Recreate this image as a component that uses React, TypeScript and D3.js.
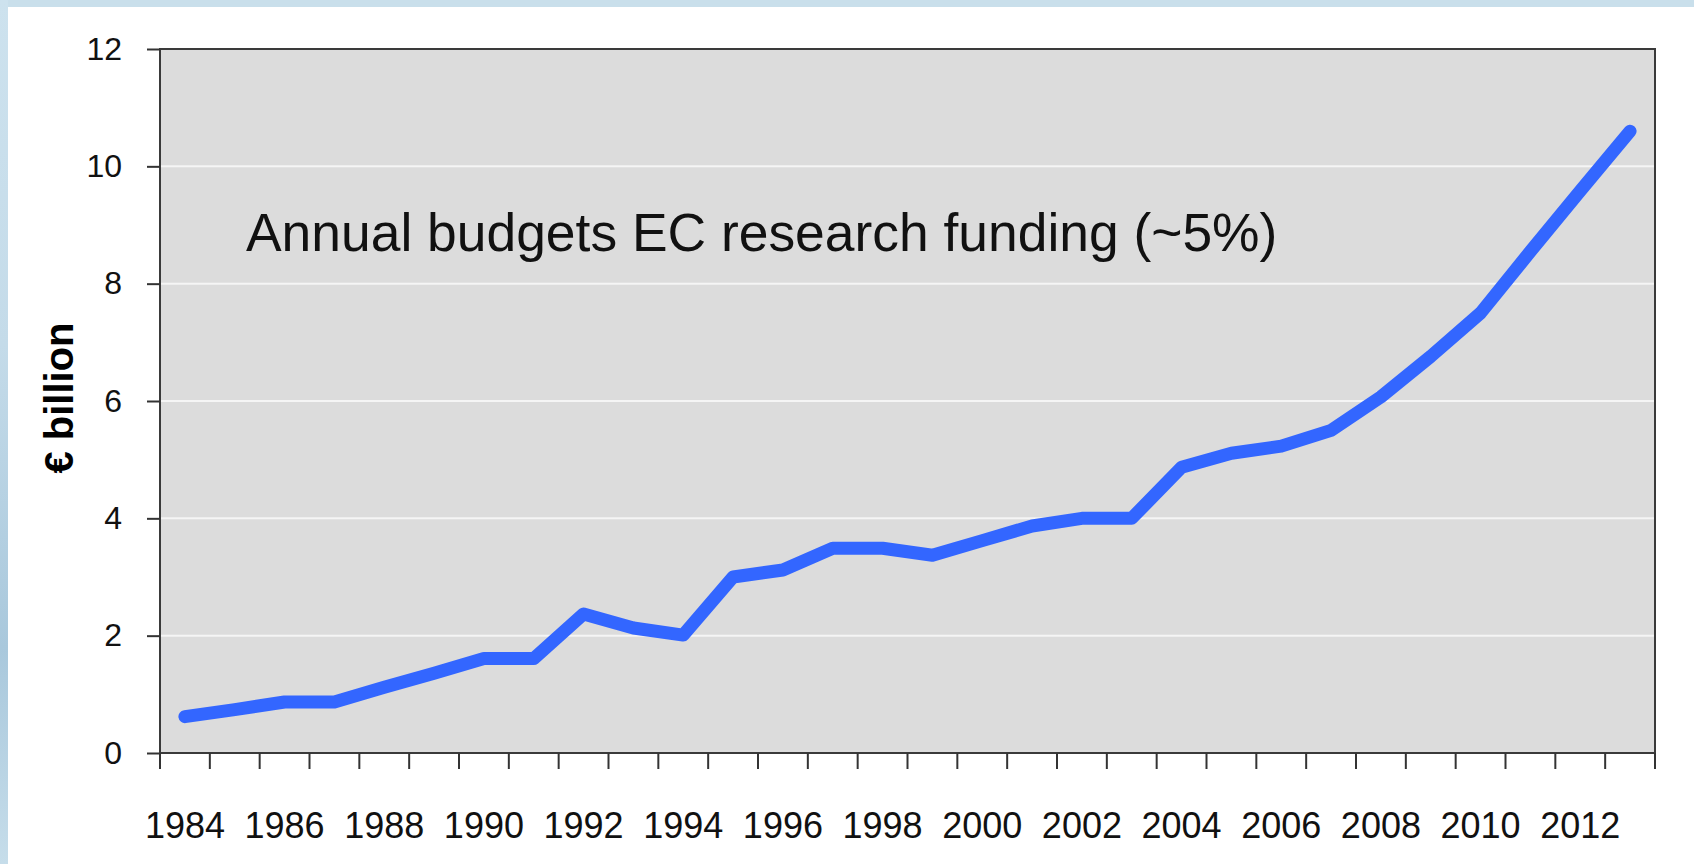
import { useEffect, useRef } from "react";
import * as d3 from "d3";

// EC research funding, € billion per year
const years = [
  1984, 1985, 1986, 1987, 1988, 1989, 1990, 1991, 1992, 1993, 1994, 1995,
  1996, 1997, 1998, 1999, 2000, 2001, 2002, 2003, 2004, 2005, 2006, 2007,
  2008, 2009, 2010, 2011, 2012, 2013,
];
const budget = [
  0.62, 0.74, 0.87, 0.87, 1.12, 1.36, 1.61, 1.61, 2.37, 2.13, 2.01, 3.0,
  3.12, 3.49, 3.49, 3.37, 3.62, 3.87, 4.0, 4.0, 4.87, 5.11, 5.23, 5.5,
  6.07, 6.76, 7.5, 8.55, 9.58, 10.6,
];
const yTicks = [0, 2, 4, 6, 8, 10, 12];
const xLabelYears = [
  1984, 1986, 1988, 1990, 1992, 1994, 1996, 1998, 2000, 2002, 2004, 2006,
  2008, 2010, 2012,
];
const annotation = "Annual budgets EC research funding (~5%)";
const yTitle = "€ billion";

const FONT = "'Liberation Sans', Arial, Helvetica, sans-serif";

const App = () => {
  const svgRef = useRef<SVGSVGElement>(null);
  const width = 1694;
  const height = 864;

  useEffect(() => {
    const svg = d3.select(svgRef.current);
    svg.selectAll("*").remove();

    const margin = { top: 49, right: 39, bottom: 111, left: 160 };
    const innerWidth = width - margin.left - margin.right;
    const innerHeight = height - margin.top - margin.bottom;

    // page frame: light blue strip top/left, white panel
    const defs = svg.append("defs");
    const grad = defs
      .append("linearGradient")
      .attr("id", "leftStrip")
      .attr("x1", 0)
      .attr("x2", 0)
      .attr("y1", 0)
      .attr("y2", 1);
    grad.append("stop").attr("offset", "0%").attr("stop-color", "#cde2ee");
    grad.append("stop").attr("offset", "40%").attr("stop-color", "#c4dbe9");
    grad.append("stop").attr("offset", "75%").attr("stop-color", "#a9c8dc");
    grad.append("stop").attr("offset", "100%").attr("stop-color", "#c6ddea");

    svg
      .append("rect")
      .attr("width", width)
      .attr("height", height)
      .attr("fill", "#c9dfeb");
    svg
      .append("rect")
      .attr("width", 8)
      .attr("height", height)
      .attr("fill", "url(#leftStrip)");
    svg
      .append("rect")
      .attr("x", 8)
      .attr("y", 7)
      .attr("width", width - 8)
      .attr("height", height - 7)
      .attr("fill", "#ffffff");

    const g = svg
      .append("g")
      .attr("transform", `translate(${margin.left},${margin.top})`);

    const xScale = d3
      .scaleBand<number>()
      .domain(years)
      .range([0, innerWidth])
      .padding(0);

    const yScale = d3.scaleLinear().domain([0, 12]).range([innerHeight, 0]);

    // plot background
    g.append("rect")
      .attr("width", innerWidth)
      .attr("height", innerHeight)
      .attr("fill", "#dcdcdc");

    // grid lines
    g.selectAll(".grid")
      .data(yTicks.filter((d) => d > 0 && d < 12))
      .enter()
      .append("line")
      .attr("class", "grid")
      .attr("x1", 0)
      .attr("x2", innerWidth)
      .attr("y1", (d) => yScale(d))
      .attr("y2", (d) => yScale(d))
      .attr("stroke", "#f5f5f5")
      .attr("stroke-width", 2);

    // frame
    g.append("rect")
      .attr("width", innerWidth)
      .attr("height", innerHeight)
      .attr("fill", "none")
      .attr("stroke", "#3a3a3a")
      .attr("stroke-width", 2);

    // Y axis
    const yAxis = d3
      .axisLeft(yScale)
      .tickValues(yTicks)
      .tickSize(13)
      .tickPadding(25);
    const yg = g.append("g").call(yAxis);
    yg.select(".domain").remove();
    yg.selectAll(".tick line")
      .attr("stroke", "#333")
      .attr("stroke-width", 2);
    yg.selectAll(".tick text")
      .attr("font-family", FONT)
      .attr("font-size", 32)
      .attr("fill", "#111");

    // X axis: ticks on band boundaries, labels on every other band
    const boundaries = [...years.map((d) => xScale(d) ?? 0), innerWidth];
    g.selectAll(".xtick")
      .data(boundaries)
      .enter()
      .append("line")
      .attr("class", "xtick")
      .attr("x1", (d) => d)
      .attr("x2", (d) => d)
      .attr("y1", innerHeight)
      .attr("y2", innerHeight + 16)
      .attr("stroke", "#333")
      .attr("stroke-width", 2);

    g.selectAll(".xlabel")
      .data(xLabelYears)
      .enter()
      .append("text")
      .attr("class", "xlabel")
      .attr("x", (d) => (xScale(d) ?? 0) + xScale.bandwidth() / 2)
      .attr("y", innerHeight + 85)
      .attr("text-anchor", "middle")
      .attr("font-family", FONT)
      .attr("font-size", 36)
      .attr("fill", "#111")
      .text((d) => String(d));

    // the line
    const line = d3
      .line<number>()
      .x((_d, i) => (xScale(years[i]) ?? 0) + xScale.bandwidth() / 2)
      .y((d) => yScale(d));

    g.append("path")
      .datum(budget)
      .attr("d", line)
      .attr("fill", "none")
      .attr("stroke", "#3366ff")
      .attr("stroke-width", 13)
      .attr("stroke-linejoin", "round")
      .attr("stroke-linecap", "round");

    // annotation inside the plot
    svg
      .append("text")
      .attr("x", 246)
      .attr("y", 251)
      .attr("font-family", FONT)
      .attr("font-size", 53.4)
      .attr("fill", "#111")
      .text(annotation);

    // y axis title
    svg
      .append("text")
      .attr("transform", "translate(73,398) rotate(-90)")
      .attr("text-anchor", "middle")
      .attr("font-family", FONT)
      .attr("font-weight", "bold")
      .attr("font-size", 40)
      .attr("fill", "#000")
      .text(yTitle);
  }, []);

  return (
    <svg
      ref={svgRef}
      width={width}
      height={height}
      style={{ position: "absolute", left: 0, top: 0, display: "block" }}
    />
  );
};

export default App;
